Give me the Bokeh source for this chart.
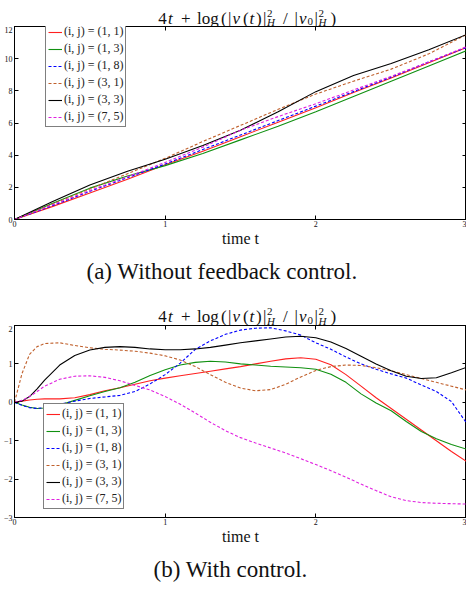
from bokeh.plotting import figure
from bokeh.models import Label, LinearAxis, Range1d, FixedTicker, Title
from bokeh.layouts import column
from bokeh.embed import file_html
from bokeh.resources import INLINE

# ---------------- data: (a) without feedback control ----------------
t_a = [0, 0.25, 0.5, 0.75, 1.0, 1.25, 1.5, 1.75, 2.0, 2.25, 2.5, 2.75, 3.0]
a_11 = [0, 0.80, 1.65, 2.50, 3.40, 4.25, 5.15, 6.05, 6.95, 7.90, 8.80, 9.75, 10.70]
a_13 = [0, 1.00, 1.95, 2.70, 3.35, 4.10, 4.95, 5.80, 6.70, 7.65, 8.60, 9.55, 10.50]
a_18 = [0, 0.85, 1.75, 2.60, 3.45, 4.35, 5.25, 6.15, 7.05, 7.95, 8.85, 9.80, 10.70]
a_31 = [0, 0.95, 1.90, 2.85, 3.80, 4.85, 5.85, 6.85, 7.80, 8.60, 9.35, 10.30, 11.50]
a_33 = [0, 1.10, 2.15, 3.00, 3.75, 4.60, 5.55, 6.70, 7.95, 8.95, 9.70, 10.55, 11.50]
a_75 = [0, 0.90, 1.80, 2.65, 3.55, 4.50, 5.55, 6.40, 7.20, 8.05, 8.90, 9.80, 10.75]

# ---------------- data: (b) with control ----------------
t_b = [0, 0.05, 0.1, 0.15, 0.2, 0.3, 0.4, 0.5, 0.6, 0.7, 0.8, 0.9, 1.0, 1.1, 1.2,
       1.3, 1.4, 1.5, 1.6, 1.7, 1.8, 1.9, 2.0, 2.1, 2.2, 2.3, 2.4, 2.5, 2.6, 2.7,
       2.8, 2.9, 3.0]
b_11 = [0, 0.03, 0.06, 0.08, 0.09, 0.09, 0.12, 0.20, 0.30, 0.38, 0.47, 0.56, 0.63,
        0.69, 0.75, 0.81, 0.87, 0.93, 1.00, 1.07, 1.13, 1.16, 1.12, 0.98, 0.72,
        0.42, 0.12, -0.16, -0.44, -0.72, -1.00, -1.28, -1.54]
b_13 = [0, -0.07, -0.13, -0.16, -0.15, -0.07, 0.05, 0.17, 0.28, 0.38, 0.52, 0.70,
        0.85, 0.97, 1.04, 1.07, 1.05, 1.00, 0.97, 0.94, 0.92, 0.90, 0.86, 0.73,
        0.52, 0.22, -0.02, -0.22, -0.50, -0.76, -0.95, -1.10, -1.22]
b_18 = [0, -0.08, -0.14, -0.16, -0.14, -0.05, 0.03, 0.10, 0.14, 0.18, 0.28, 0.48,
        0.72, 1.02, 1.38, 1.60, 1.77, 1.88, 1.93, 1.94, 1.86, 1.75, 1.55, 1.38,
        1.18, 1.00, 0.86, 0.74, 0.63, 0.45, 0.28, 0.02, -0.54]
b_31 = [0, 0.75, 1.25, 1.45, 1.53, 1.55, 1.48, 1.42, 1.38, 1.36, 1.33, 1.28, 1.21,
        1.10, 0.93, 0.72, 0.52, 0.37, 0.30, 0.33, 0.47, 0.66, 0.83, 0.93, 0.97,
        0.96, 0.90, 0.82, 0.72, 0.62, 0.52, 0.42, 0.32]
b_33 = [0, 0.03, 0.15, 0.35, 0.58, 0.97, 1.22, 1.36, 1.43, 1.45, 1.43, 1.39, 1.37,
        1.37, 1.39, 1.43, 1.49, 1.55, 1.60, 1.65, 1.70, 1.72, 1.68, 1.57, 1.40,
        1.20, 1.00, 0.82, 0.68, 0.62, 0.64, 0.77, 0.91]
b_75 = [0, 0.05, 0.15, 0.28, 0.42, 0.60, 0.68, 0.69, 0.65, 0.56, 0.44, 0.32, 0.15,
        -0.05, -0.28, -0.52, -0.74, -0.92, -1.06, -1.19, -1.32, -1.47, -1.62, -1.78,
        -1.95, -2.13, -2.30, -2.46, -2.56, -2.61, -2.63, -2.64, -2.65]

labels = ["(i, j) = (1, 1)", "(i, j) = (1, 3)", "(i, j) = (1, 8)",
          "(i, j) = (3, 1)", "(i, j) = (3, 3)", "(i, j) = (7, 5)"]
x_ticks = [0, 1, 2, 3]
y_ticks_a = [0, 2, 4, 6, 8, 10, 12]
y_ticks_b = [-3, -2, -1, 0, 1, 2]
caption_a = "(a) Without feedback control."
caption_b = "(b) With control."
x_label = "time t"

colors = ["#ff2020", "#109010", "#0000ff", "#c0602c", "#000000", "#e020e0"]
dashes = ["solid", "solid", "3 2", "3 2", "solid", "3 2"]

SERIF = "Liberation Serif"
W = 466


def fmt(v):
    return str(v).replace("-", "\u2212")


def add_text(p, text, x, y, size, style="normal", align="left"):
    p.add_layout(Label(x=x, y=y, x_units="screen", y_units="screen", text=text,
                       text_font=SERIF, text_font_size=f"{size}px",
                       text_font_style=style, text_color="#111111",
                       text_align=align, text_baseline="alphabetic"))


def title_fig(height, base_from_top):
    p = figure(width=W, height=height, title=None, x_range=Range1d(0, 1),
               y_range=Range1d(0, 1), x_axis_location=None, y_axis_location=None,
               output_backend="svg", toolbar_location=None, min_border=0)
    p.grid.visible = False
    p.outline_line_color = None
    p.background_fill_color = "white"
    p.border_fill_color = "white"
    base = height - base_from_top
    # 4t + log(|v(t)|^2_H / |v0|^2_H)
    pieces = [("4", 143.7, 0, 17, "normal"), ("t", 153.5, 0, 17, "italic"),
              ("+", 166.5, 0, 17, "normal"), ("log", 182.5, 0, 17, "normal"),
              ("(", 206.5, 0, 17, "normal"), ("|", 213.5, 0, 17, "normal"),
              ("v", 218.0, 0, 17, "italic"), ("(", 228.5, 0, 17, "normal"),
              ("t", 235.0, 0, 17, "italic"), (")", 241.5, 0, 17, "normal"),
              ("|", 248.5, 0, 17, "normal"), ("2", 252.5, 5, 11, "normal"),
              ("H", 252.5, -4, 11, "italic"), ("/", 268.5, 0, 17, "normal"),
              ("|", 280.0, 0, 17, "normal"), ("v", 284.5, 0, 17, "italic"),
              ("0", 293.0, -3.5, 11, "normal"), ("|", 300.0, 0, 17, "normal"),
              ("2", 304.0, 5, 11, "normal"), ("H", 304.0, -4, 11, "italic"),
              (")", 316.0, 0, 17, "normal")]
    for txt, x, dy, sz, st in pieces:
        add_text(p, txt, x, base + dy, sz, st)
    return p


def plot_fig(t, series, yr, yticks, height, bottom, legend_loc, caption, cap_off):
    p = figure(width=W, height=height, title=None, x_range=Range1d(0, 3),
               y_range=Range1d(*yr), output_backend="svg", toolbar_location=None,
               min_border_left=11, min_border_right=0, min_border_top=0,
               min_border_bottom=bottom)
    p.grid.visible = False
    p.outline_line_color = "black"
    p.outline_line_width = 1
    p.background_fill_color = "white"
    p.border_fill_color = "white"
    for y, c, d, lab in zip(series, colors, dashes, labels):
        p.line(t, y, line_color=c, line_width=1.1, line_dash=d, legend_label=lab)

    p.add_layout(LinearAxis(), "above")
    p.add_layout(LinearAxis(), "right")
    for ax in p.xaxis:
        ax.ticker = FixedTicker(ticks=x_ticks)
        ax.major_label_overrides = {v: fmt(v) for v in x_ticks}
    for ax in p.yaxis:
        ax.ticker = FixedTicker(ticks=yticks)
        ax.major_label_overrides = {v: fmt(v) for v in yticks}
    for ax in list(p.xaxis) + list(p.yaxis):
        ax.axis_line_color = "black"
        ax.major_tick_line_color = "black"
        ax.major_tick_in = 4
        ax.major_tick_out = 0
        ax.minor_tick_line_color = None
        ax.major_label_text_font = SERIF
        ax.major_label_text_font_size = "8px"
        ax.major_label_text_color = "#111111"
        ax.major_label_standoff = 2
    for ax in (p.above[0], p.right[0]):
        ax.major_label_text_font_size = "0px"
        ax.major_label_standoff = 0
        ax.major_label_overrides = {v: "" for v in (x_ticks + yticks)}
    xb = p.below[0]
    xb.major_label_standoff = 1
    xb.axis_label = x_label
    xb.axis_label_text_font = SERIF
    xb.axis_label_text_font_size = "16px"
    xb.axis_label_text_font_style = "normal"
    xb.axis_label_text_color = "#111111"
    xb.axis_label_standoff = 0

    cap = Title(text=caption, align="left", offset=cap_off, standoff=14,
                text_font=SERIF, text_font_size="23px", text_font_style="normal",
                text_color="#111111")
    p.add_layout(cap, "below")

    lg = p.legend[0]
    lg.location = legend_loc
    lg.label_text_font = SERIF
    lg.label_text_font_size = "12px"
    lg.label_text_color = "#222222"
    lg.glyph_width = 14
    lg.glyph_height = 14
    lg.label_height = 14
    lg.label_standoff = 2
    lg.spacing = 2
    lg.padding = 2
    lg.margin = 0
    lg.border_line_color = "black"
    lg.border_line_width = 1
    lg.background_fill_alpha = 1
    return p


tA = title_fig(26, 17.5)
pA = plot_fig(t_a, [a_11, a_13, a_18, a_31, a_33, a_75], (0, 12), y_ticks_a,
              264, 68, (31, 92), caption_a, 72)
tB = title_fig(35, 26)
pB = plot_fig(t_b, [b_11, b_13, b_18, b_31, b_33, b_75], (-3, 2), y_ticks_b,
              263, 62, (29, 8), caption_b, 139)

layout = column(tA, pA, tB, pB, spacing=0)
open("out.html", "w").write(file_html(layout, INLINE))
